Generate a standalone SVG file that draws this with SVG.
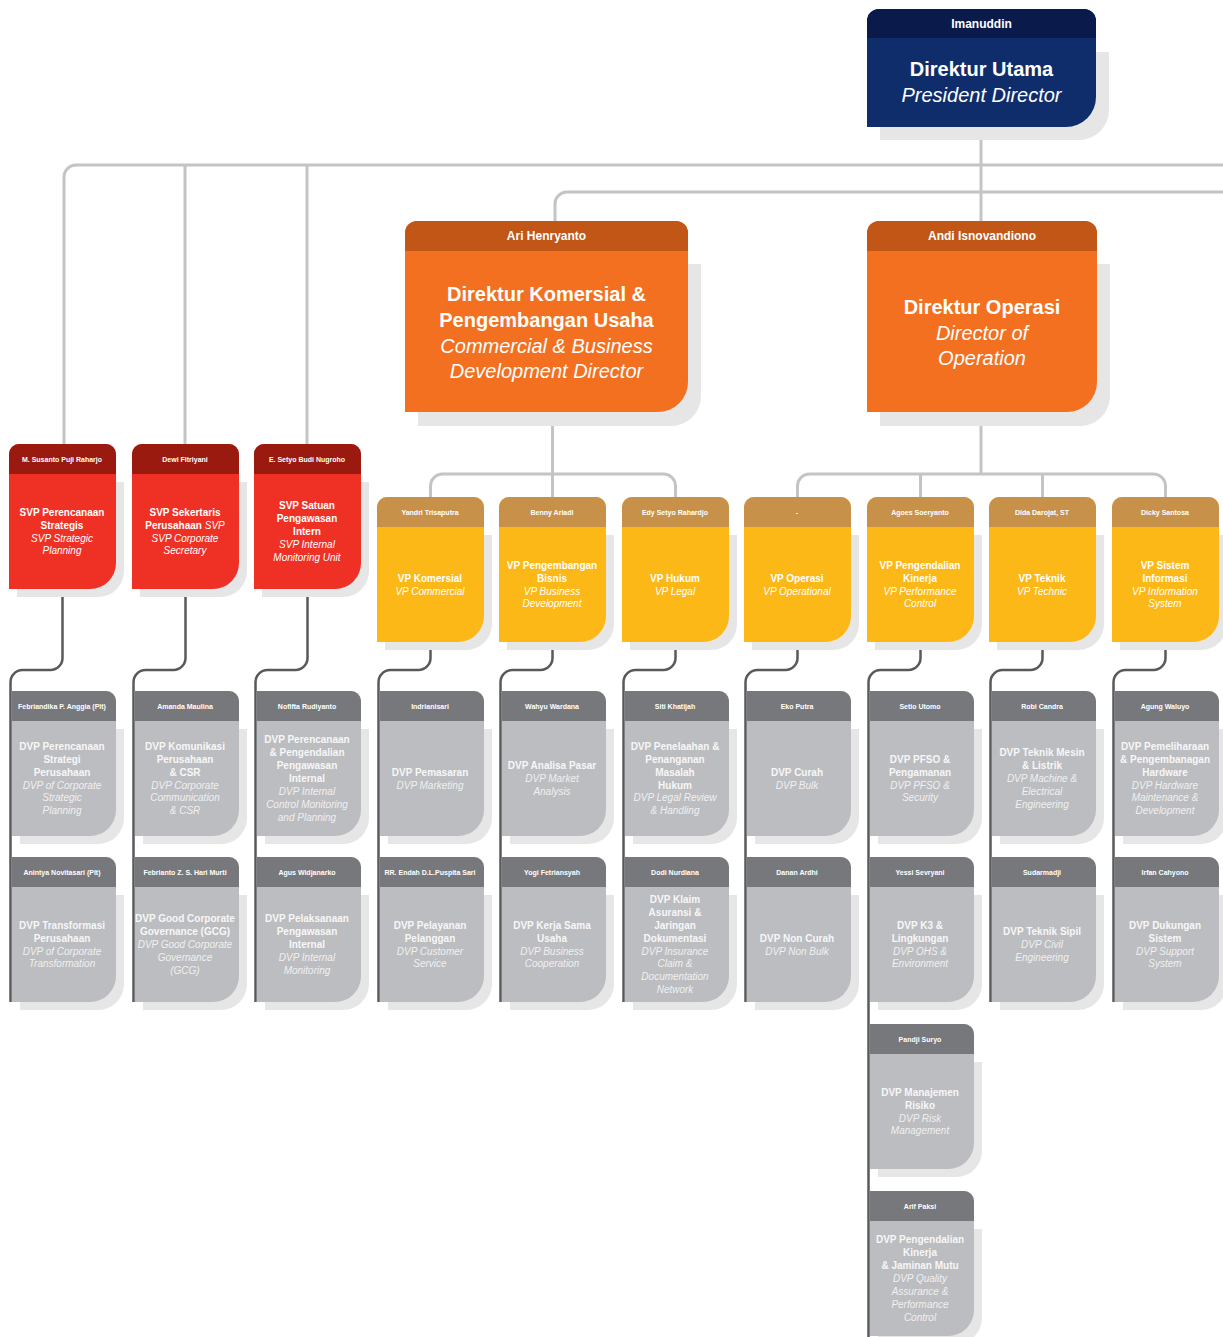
<svg xmlns="http://www.w3.org/2000/svg" xmlns:xlink="http://www.w3.org/1999/xlink" width="1223" height="1337" viewBox="0 0 1223 1337">
<style>
text{font-family:"Liberation Sans",Arial,sans-serif;text-anchor:middle;fill:#fff}
.h{font-size:7px;font-weight:bold}
.t{font-size:10px;font-weight:bold}
.i{font-size:10px;font-style:italic;font-weight:normal}
.gt{fill:#f7f7f7}
.gi{fill:#f0f0f0}
.bh{font-size:12px;font-weight:bold}
.bt{font-size:20px;font-weight:bold}
.bi{font-size:20px;font-style:italic}
.shd{fill:#e6e6e6}
.up{fill:none;stroke:#c4c4c4;stroke-width:3}
.lo{fill:none;stroke:#58595b;stroke-width:2.5}
.rb{fill:#ee3124}.rh{fill:#9a1a10}
.yb{fill:#fcb817}.yh{fill:#c8914a}
.gb{fill:#bcbdc0}.gh{fill:#77787b}
</style>
<defs>
<path id="sh" d="M8,38 H115 V127 A26,26 0 0 1 89,153 H8 Z"/>
<path id="bd" d="M0,10 A10,10 0 0 1 10,0 H97 A10,10 0 0 1 107,10 V119 A26,26 0 0 1 81,145 H0 Z"/>
<path id="hd" d="M0,10 A10,10 0 0 1 10,0 H97 A10,10 0 0 1 107,10 V30 H0 Z"/>
<path id="gsh" d="M8,38 H112 V127 A26,26 0 0 1 86,153 H8 Z"/>
<path id="gbd" d="M0,0 H94 A10,10 0 0 1 104,10 V119 A26,26 0 0 1 78,145 H0 Z"/>
<path id="ghd" d="M0,0 H94 A10,10 0 0 1 104,10 V30 H0 Z"/>
</defs>

<g id="connectors">
<path class="up" d="M981,127 V221"/>
<path class="up" d="M64,444 V177 A12,12 0 0 1 76,165 H1223"/>
<path class="up" d="M185,165 V444 M307,165 V444"/>
<path class="up" d="M555,221 V204 A12,12 0 0 1 567,192 H1223"/>
<path class="up" d="M552.5,412 V497"/>
<path class="up" d="M430.5,497 V486 A12,12 0 0 1 442.5,474 H663.5 A12,12 0 0 1 675.5,486 V497"/>
<path class="up" d="M981,412 V474"/>
<path class="up" d="M797.5,497 V486 A12,12 0 0 1 809.5,474 H1153.5 A12,12 0 0 1 1165.5,486 V497 M920.5,474 V497 M1042.5,474 V497"/>
<path class="lo" d="M62.5,589 V658 A12,12 0 0 1 50.5,670 H22.5 A12,12 0 0 0 10.5,682 V1002"/>
<path class="lo" d="M185.5,589 V658 A12,12 0 0 1 173.5,670 H145.5 A12,12 0 0 0 133.5,682 V1002"/>
<path class="lo" d="M307.5,589 V658 A12,12 0 0 1 295.5,670 H267.5 A12,12 0 0 0 255.5,682 V1002"/>
<path class="lo" d="M430.5,642 V658 A12,12 0 0 1 418.5,670 H390.5 A12,12 0 0 0 378.5,682 V1002"/>
<path class="lo" d="M552.5,642 V658 A12,12 0 0 1 540.5,670 H512.5 A12,12 0 0 0 500.5,682 V1002"/>
<path class="lo" d="M675.5,642 V658 A12,12 0 0 1 663.5,670 H635.5 A12,12 0 0 0 623.5,682 V1002"/>
<path class="lo" d="M797.5,642 V658 A12,12 0 0 1 785.5,670 H757.5 A12,12 0 0 0 745.5,682 V1002"/>
<path class="lo" d="M920.5,642 V658 A12,12 0 0 1 908.5,670 H880.5 A12,12 0 0 0 868.5,682 V1337"/>
<path class="lo" d="M1042.5,642 V658 A12,12 0 0 1 1030.5,670 H1002.5 A12,12 0 0 0 990.5,682 V1002"/>
<path class="lo" d="M1165.5,642 V658 A12,12 0 0 1 1153.5,670 H1125.5 A12,12 0 0 0 1113.5,682 V1002"/>
</g>

<g id="direktur-utama">
<path class="shd" d="M880,52 H1109 V110 A30,30 0 0 1 1079,140 H880 Z"/>
<path fill="#102d6b" d="M867,21 A12,12 0 0 1 879,9 H1084 A12,12 0 0 1 1096,21 V97 A30,30 0 0 1 1066,127 H867 Z"/>
<path fill="#0a1a4b" d="M867,21 A12,12 0 0 1 879,9 H1084 A12,12 0 0 1 1096,21 V38 H867 Z"/>
<text class="bh" x="981.5" y="28">Imanuddin</text>
<text class="bt" x="981.5" y="76">Direktur Utama</text>
<text class="bi" x="981.5" y="102">President Director</text>
</g>

<g id="direktur-komersial">
<path class="shd" d="M418,264 H701 V396 A30,30 0 0 1 671,426 H418 Z"/>
<path fill="#f37021" d="M405,233 A12,12 0 0 1 417,221 H676 A12,12 0 0 1 688,233 V382 A30,30 0 0 1 658,412 H405 Z"/>
<path fill="#c25617" d="M405,233 A12,12 0 0 1 417,221 H676 A12,12 0 0 1 688,233 V251 H405 Z"/>
<text class="bh" x="546.5" y="240">Ari Henryanto</text>
<text class="bt" x="546.5" y="301">Direktur Komersial &amp;</text>
<text class="bt" x="546.5" y="327">Pengembangan Usaha</text>
<text class="bi" x="546.5" y="353">Commercial &amp; Business</text>
<text class="bi" x="546.5" y="378">Development Director</text>
</g>

<g id="direktur-operasi">
<path class="shd" d="M880,264 H1110 V396 A30,30 0 0 1 1080,426 H880 Z"/>
<path fill="#f37021" d="M867,233 A12,12 0 0 1 879,221 H1085 A12,12 0 0 1 1097,233 V382 A30,30 0 0 1 1067,412 H867 Z"/>
<path fill="#c25617" d="M867,233 A12,12 0 0 1 879,221 H1085 A12,12 0 0 1 1097,233 V251 H867 Z"/>
<text class="bh" x="982" y="240">Andi Isnovandiono</text>
<text class="bt" x="982" y="314">Direktur Operasi</text>
<text class="bi" x="982" y="340">Director of</text>
<text class="bi" x="982" y="365">Operation</text>
</g>

<!-- SVP nodes -->
<g id="svp-perencanaan-strategis" transform="translate(9,444)">
<use href="#sh" class="shd"/><use href="#bd" class="rb"/><use href="#hd" class="rh"/>
<text class="h" x="53" y="17.5">M. Susanto Puji Raharjo</text>
<text class="t" x="53" y="71.6">SVP Perencanaan</text>
<text class="t" x="53" y="84.5">Strategis</text>
<text class="i" x="53" y="97.5">SVP Strategic</text>
<text class="i" x="53" y="110.4">Planning</text>
</g>
<g id="svp-sekertaris-perusahaan" transform="translate(132,444)">
<use href="#sh" class="shd"/><use href="#bd" class="rb"/><use href="#hd" class="rh"/>
<text class="h" x="53" y="17.5">Dewi Fitriyani</text>
<text class="t" x="53" y="71.6">SVP Sekertaris</text>
<text class="t" x="53" y="84.5">Perusahaan <tspan class="i">SVP</tspan></text>
<text class="i" x="53" y="97.5">SVP Corporate</text>
<text class="i" x="53" y="110.4">Secretary</text>
</g>
<g id="svp-satuan-pengawasan-intern" transform="translate(254,444)">
<use href="#sh" class="shd"/><use href="#bd" class="rb"/><use href="#hd" class="rh"/>
<text class="h" x="53" y="17.5">E. Setyo Budi Nugroho</text>
<text class="t" x="53" y="65.2">SVP Satuan</text>
<text class="t" x="53" y="78.1">Pengawasan</text>
<text class="t" x="53" y="91">Intern</text>
<text class="i" x="53" y="103.9">SVP Internal</text>
<text class="i" x="53" y="116.8">Monitoring Unit</text>
</g>

<!-- VP nodes -->
<g id="vp-komersial" transform="translate(377,497)">
<use href="#sh" class="shd"/><use href="#bd" class="yb"/><use href="#hd" class="yh"/>
<text class="h" x="53" y="17.5">Yandri Trisaputra</text>
<text class="t" x="53" y="84.5">VP Komersial</text>
<text class="i" x="53" y="97.5">VP Commercial</text>
</g>
<g id="vp-pengembangan-bisnis" transform="translate(499,497)">
<use href="#sh" class="shd"/><use href="#bd" class="yb"/><use href="#hd" class="yh"/>
<text class="h" x="53" y="17.5">Benny Ariadi</text>
<text class="t" x="53" y="71.6">VP Pengembangan</text>
<text class="t" x="53" y="84.5">Bisnis</text>
<text class="i" x="53" y="97.5">VP Business</text>
<text class="i" x="53" y="110.4">Development</text>
</g>
<g id="vp-hukum" transform="translate(622,497)">
<use href="#sh" class="shd"/><use href="#bd" class="yb"/><use href="#hd" class="yh"/>
<text class="h" x="53" y="17.5">Edy Setyo Rahardjo</text>
<text class="t" x="53" y="84.5">VP Hukum</text>
<text class="i" x="53" y="97.5">VP Legal</text>
</g>
<g id="vp-operasi" transform="translate(744,497)">
<use href="#sh" class="shd"/><use href="#bd" class="yb"/><use href="#hd" class="yh"/>
<text class="h" x="53" y="17.5">-</text>
<text class="t" x="53" y="84.5">VP Operasi</text>
<text class="i" x="53" y="97.5">VP Operational</text>
</g>
<g id="vp-pengendalian-kinerja" transform="translate(867,497)">
<use href="#sh" class="shd"/><use href="#bd" class="yb"/><use href="#hd" class="yh"/>
<text class="h" x="53" y="17.5">Agoes Soeryanto</text>
<text class="t" x="53" y="71.6">VP Pengendalian</text>
<text class="t" x="53" y="84.5">Kinerja</text>
<text class="i" x="53" y="97.5">VP Performance</text>
<text class="i" x="53" y="110.4">Control</text>
</g>
<g id="vp-teknik" transform="translate(989,497)">
<use href="#sh" class="shd"/><use href="#bd" class="yb"/><use href="#hd" class="yh"/>
<text class="h" x="53" y="17.5">Dida Darojat, ST</text>
<text class="t" x="53" y="84.5">VP Teknik</text>
<text class="i" x="53" y="97.5">VP Technic</text>
</g>
<g id="vp-sistem-informasi" transform="translate(1112,497)">
<use href="#sh" class="shd"/><use href="#bd" class="yb"/><use href="#hd" class="yh"/>
<text class="h" x="53" y="17.5">Dicky Santosa</text>
<text class="t" x="53" y="71.6">VP Sistem</text>
<text class="t" x="53" y="84.5">Informasi</text>
<text class="i" x="53" y="97.5">VP Information</text>
<text class="i" x="53" y="110.4">System</text>
</g>

<!-- DVP nodes row 1 -->
<g id="dvp-perencanaan-strategi" transform="translate(12,691)">
<use href="#gsh" class="shd"/><use href="#gbd" class="gb"/><use href="#ghd" class="gh"/>
<text class="h" x="50" y="17.5">Febriandika P. Anggia (Plt)</text>
<text class="t gt" x="50" y="58.8">DVP Perencanaan</text>
<text class="t gt" x="50" y="71.7">Strategi</text>
<text class="t gt" x="50" y="84.6">Perusahaan</text>
<text class="i gi" x="50" y="97.5">DVP of Corporate</text>
<text class="i gi" x="50" y="110.4">Strategic</text>
<text class="i gi" x="50" y="123.3">Planning</text>
</g>
<g id="dvp-komunikasi-perusahaan" transform="translate(135,691)">
<use href="#gsh" class="shd"/><use href="#gbd" class="gb"/><use href="#ghd" class="gh"/>
<text class="h" x="50" y="17.5">Amanda Maulina</text>
<text class="t gt" x="50" y="58.8">DVP Komunikasi</text>
<text class="t gt" x="50" y="71.7">Perusahaan</text>
<text class="t gt" x="50" y="84.6">&amp; CSR</text>
<text class="i gi" x="50" y="97.5">DVP Corporate</text>
<text class="i gi" x="50" y="110.4">Communication</text>
<text class="i gi" x="50" y="123.3">&amp; CSR</text>
</g>
<g id="dvp-perencanaan-pengendalian" transform="translate(257,691)">
<use href="#gsh" class="shd"/><use href="#gbd" class="gb"/><use href="#ghd" class="gh"/>
<text class="h" x="50" y="17.5">Nofifta Rudiyanto</text>
<text class="t gt" x="50" y="52.3">DVP Perencanaan</text>
<text class="t gt" x="50" y="65.2">&amp; Pengendalian</text>
<text class="t gt" x="50" y="78.1">Pengawasan</text>
<text class="t gt" x="50" y="91">Internal</text>
<text class="i gi" x="50" y="103.9">DVP Internal</text>
<text class="i gi" x="50" y="116.8">Control Monitoring</text>
<text class="i gi" x="50" y="129.7">and Planning</text>
</g>
<g id="dvp-pemasaran" transform="translate(380,691)">
<use href="#gsh" class="shd"/><use href="#gbd" class="gb"/><use href="#ghd" class="gh"/>
<text class="h" x="50" y="17.5">Indrianisari</text>
<text class="t gt" x="50" y="84.5">DVP Pemasaran</text>
<text class="i gi" x="50" y="97.5">DVP Marketing</text>
</g>
<g id="dvp-analisa-pasar" transform="translate(502,691)">
<use href="#gsh" class="shd"/><use href="#gbd" class="gb"/><use href="#ghd" class="gh"/>
<text class="h" x="50" y="17.5">Wahyu Wardana</text>
<text class="t gt" x="50" y="78.1">DVP Analisa Pasar</text>
<text class="i gi" x="50" y="91">DVP Market</text>
<text class="i gi" x="50" y="103.9">Analysis</text>
</g>
<g id="dvp-penelaahan-hukum" transform="translate(625,691)">
<use href="#gsh" class="shd"/><use href="#gbd" class="gb"/><use href="#ghd" class="gh"/>
<text class="h" x="50" y="17.5">Siti Khatijah</text>
<text class="t gt" x="50" y="58.8">DVP Penelaahan &amp;</text>
<text class="t gt" x="50" y="71.7">Penanganan</text>
<text class="t gt" x="50" y="84.6">Masalah</text>
<text class="t gt" x="50" y="97.5">Hukum</text>
<text class="i gi" x="50" y="110.4">DVP Legal Review</text>
<text class="i gi" x="50" y="123.3">&amp; Handling</text>
</g>
<g id="dvp-curah" transform="translate(747,691)">
<use href="#gsh" class="shd"/><use href="#gbd" class="gb"/><use href="#ghd" class="gh"/>
<text class="h" x="50" y="17.5">Eko Putra</text>
<text class="t gt" x="50" y="84.5">DVP Curah</text>
<text class="i gi" x="50" y="97.5">DVP Bulk</text>
</g>
<g id="dvp-pfso" transform="translate(870,691)">
<use href="#gsh" class="shd"/><use href="#gbd" class="gb"/><use href="#ghd" class="gh"/>
<text class="h" x="50" y="17.5">Setio Utomo</text>
<text class="t gt" x="50" y="71.6">DVP PFSO &amp;</text>
<text class="t gt" x="50" y="84.5">Pengamanan</text>
<text class="i gi" x="50" y="97.5">DVP PFSO &amp;</text>
<text class="i gi" x="50" y="110.4">Security</text>
</g>
<g id="dvp-teknik-mesin" transform="translate(992,691)">
<use href="#gsh" class="shd"/><use href="#gbd" class="gb"/><use href="#ghd" class="gh"/>
<text class="h" x="50" y="17.5">Robi Candra</text>
<text class="t gt" x="50" y="65.2">DVP Teknik Mesin</text>
<text class="t gt" x="50" y="78.1">&amp; Listrik</text>
<text class="i gi" x="50" y="91">DVP Machine &amp;</text>
<text class="i gi" x="50" y="103.9">Electrical</text>
<text class="i gi" x="50" y="116.8">Engineering</text>
</g>
<g id="dvp-pemeliharaan-hardware" transform="translate(1115,691)">
<use href="#gsh" class="shd"/><use href="#gbd" class="gb"/><use href="#ghd" class="gh"/>
<text class="h" x="50" y="17.5">Agung Waluyo</text>
<text class="t gt" x="50" y="58.8">DVP Pemeliharaan</text>
<text class="t gt" x="50" y="71.7">&amp; Pengembanagan</text>
<text class="t gt" x="50" y="84.6">Hardware</text>
<text class="i gi" x="50" y="97.5">DVP Hardware</text>
<text class="i gi" x="50" y="110.4">Maintenance &amp;</text>
<text class="i gi" x="50" y="123.3">Development</text>
</g>

<!-- DVP nodes row 2 -->
<g id="dvp-transformasi" transform="translate(12,857)">
<use href="#gsh" class="shd"/><use href="#gbd" class="gb"/><use href="#ghd" class="gh"/>
<text class="h" x="50" y="17.5">Anintya Novitasari (Plt)</text>
<text class="t gt" x="50" y="71.6">DVP Transformasi</text>
<text class="t gt" x="50" y="84.5">Perusahaan</text>
<text class="i gi" x="50" y="97.5">DVP of Corporate</text>
<text class="i gi" x="50" y="110.4">Transformation</text>
</g>
<g id="dvp-gcg" transform="translate(135,857)">
<use href="#gsh" class="shd"/><use href="#gbd" class="gb"/><use href="#ghd" class="gh"/>
<text class="h" x="50" y="17.5">Febrianto Z. S. Hari Murti</text>
<text class="t gt" x="50" y="65.2">DVP Good Corporate</text>
<text class="t gt" x="50" y="78.1">Governance (GCG)</text>
<text class="i gi" x="50" y="91">DVP Good Corporate</text>
<text class="i gi" x="50" y="103.9">Governance</text>
<text class="i gi" x="50" y="116.8">(GCG)</text>
</g>
<g id="dvp-pelaksanaan-pengawasan" transform="translate(257,857)">
<use href="#gsh" class="shd"/><use href="#gbd" class="gb"/><use href="#ghd" class="gh"/>
<text class="h" x="50" y="17.5">Agus Widjanarko</text>
<text class="t gt" x="50" y="65.2">DVP Pelaksanaan</text>
<text class="t gt" x="50" y="78.1">Pengawasan</text>
<text class="t gt" x="50" y="91">Internal</text>
<text class="i gi" x="50" y="103.9">DVP Internal</text>
<text class="i gi" x="50" y="116.8">Monitoring</text>
</g>
<g id="dvp-pelayanan-pelanggan" transform="translate(380,857)">
<use href="#gsh" class="shd"/><use href="#gbd" class="gb"/><use href="#ghd" class="gh"/>
<text class="h" x="50" y="17.5">RR. Endah D.L.Puspita Sari</text>
<text class="t gt" x="50" y="71.6">DVP Pelayanan</text>
<text class="t gt" x="50" y="84.5">Pelanggan</text>
<text class="i gi" x="50" y="97.5">DVP Customer</text>
<text class="i gi" x="50" y="110.4">Service</text>
</g>
<g id="dvp-kerja-sama-usaha" transform="translate(502,857)">
<use href="#gsh" class="shd"/><use href="#gbd" class="gb"/><use href="#ghd" class="gh"/>
<text class="h" x="50" y="17.5">Yogi Fetriansyah</text>
<text class="t gt" x="50" y="71.6">DVP Kerja Sama</text>
<text class="t gt" x="50" y="84.5">Usaha</text>
<text class="i gi" x="50" y="97.5">DVP Business</text>
<text class="i gi" x="50" y="110.4">Cooperation</text>
</g>
<g id="dvp-klaim-asuransi" transform="translate(625,857)">
<use href="#gsh" class="shd"/><use href="#gbd" class="gb"/><use href="#ghd" class="gh"/>
<text class="h" x="50" y="17.5">Dodi Nurdiana</text>
<text class="t gt" x="50" y="45.9">DVP Klaim</text>
<text class="t gt" x="50" y="58.8">Asuransi &amp;</text>
<text class="t gt" x="50" y="71.7">Jaringan</text>
<text class="t gt" x="50" y="84.6">Dokumentasi</text>
<text class="i gi" x="50" y="97.5">DVP Insurance</text>
<text class="i gi" x="50" y="110.4">Claim &amp;</text>
<text class="i gi" x="50" y="123.3">Documentation</text>
<text class="i gi" x="50" y="136.2">Network</text>
</g>
<g id="dvp-non-curah" transform="translate(747,857)">
<use href="#gsh" class="shd"/><use href="#gbd" class="gb"/><use href="#ghd" class="gh"/>
<text class="h" x="50" y="17.5">Danan Ardhi</text>
<text class="t gt" x="50" y="84.5">DVP Non Curah</text>
<text class="i gi" x="50" y="97.5">DVP Non Bulk</text>
</g>
<g id="dvp-k3-lingkungan" transform="translate(870,857)">
<use href="#gsh" class="shd"/><use href="#gbd" class="gb"/><use href="#ghd" class="gh"/>
<text class="h" x="50" y="17.5">Yessi Sevryani</text>
<text class="t gt" x="50" y="71.6">DVP K3 &amp;</text>
<text class="t gt" x="50" y="84.5">Lingkungan</text>
<text class="i gi" x="50" y="97.5">DVP OHS &amp;</text>
<text class="i gi" x="50" y="110.4">Environment</text>
</g>
<g id="dvp-teknik-sipil" transform="translate(992,857)">
<use href="#gsh" class="shd"/><use href="#gbd" class="gb"/><use href="#ghd" class="gh"/>
<text class="h" x="50" y="17.5">Sudarmadji</text>
<text class="t gt" x="50" y="78.1">DVP Teknik Sipil</text>
<text class="i gi" x="50" y="91">DVP Civil</text>
<text class="i gi" x="50" y="103.9">Engineering</text>
</g>
<g id="dvp-dukungan-sistem" transform="translate(1115,857)">
<use href="#gsh" class="shd"/><use href="#gbd" class="gb"/><use href="#ghd" class="gh"/>
<text class="h" x="50" y="17.5">Irfan Cahyono</text>
<text class="t gt" x="50" y="71.6">DVP Dukungan</text>
<text class="t gt" x="50" y="84.5">Sistem</text>
<text class="i gi" x="50" y="97.5">DVP Support</text>
<text class="i gi" x="50" y="110.4">System</text>
</g>

<!-- DVP rows 3-4 -->
<g id="dvp-manajemen-risiko" transform="translate(870,1024)">
<use href="#gsh" class="shd"/><use href="#gbd" class="gb"/><use href="#ghd" class="gh"/>
<text class="h" x="50" y="17.5">Pandji Suryo</text>
<text class="t gt" x="50" y="71.6">DVP Manajemen</text>
<text class="t gt" x="50" y="84.5">Risiko</text>
<text class="i gi" x="50" y="97.5">DVP Risk</text>
<text class="i gi" x="50" y="110.4">Management</text>
</g>
<g id="dvp-pengendalian-kinerja-mutu" transform="translate(870,1191)">
<use href="#gsh" class="shd"/><use href="#gbd" class="gb"/><use href="#ghd" class="gh"/>
<text class="h" x="50" y="17.5">Arif Paksi</text>
<text class="t gt" x="50" y="52.3">DVP Pengendalian</text>
<text class="t gt" x="50" y="65.2">Kinerja</text>
<text class="t gt" x="50" y="78.1">&amp; Jaminan Mutu</text>
<text class="i gi" x="50" y="91">DVP Quality</text>
<text class="i gi" x="50" y="103.9">Assurance &amp;</text>
<text class="i gi" x="50" y="116.8">Performance</text>
<text class="i gi" x="50" y="129.7">Control</text>
</g>
</svg>
